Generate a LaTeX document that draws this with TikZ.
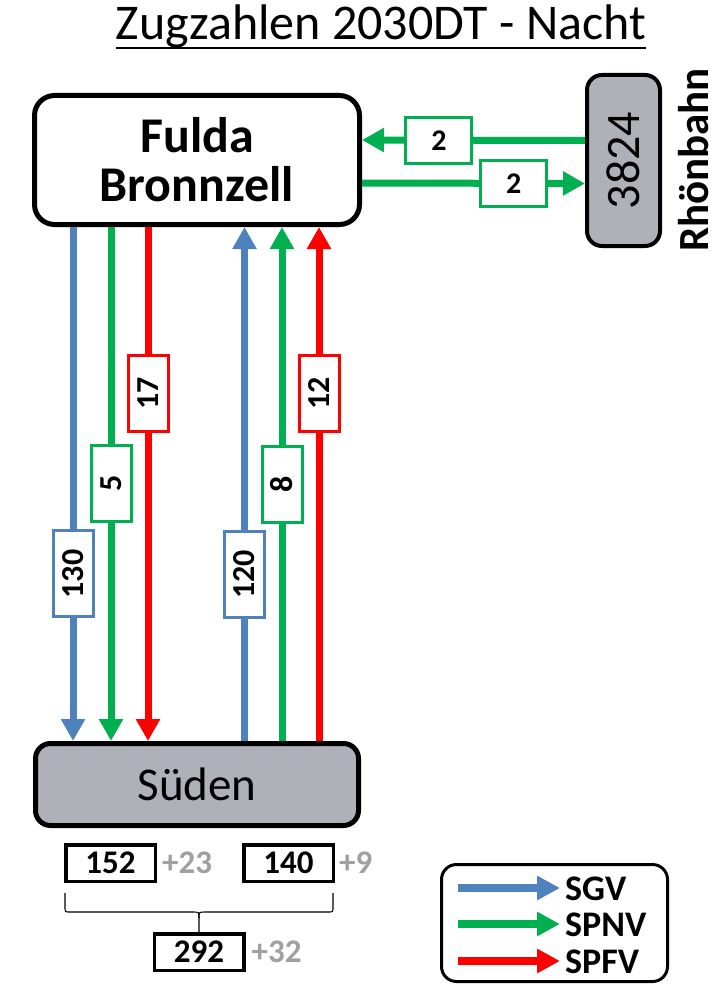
\documentclass[tikz,border=0pt]{standalone}
\usepackage{fontspec}
\setmainfont{Carlito}
\usetikzlibrary{arrows.meta}
\definecolor{cblue}{RGB}{79,129,189}
\definecolor{cgreen}{RGB}{0,176,80}
\definecolor{cred}{RGB}{255,0,0}
\definecolor{cgray}{RGB}{174,177,184}
\definecolor{tgray}{RGB}{160,160,160}
\newcommand{\myfs}[1]{\fontsize{#1}{#1}\selectfont}
\begin{document}
\begin{tikzpicture}[x=1pt,y=-1pt,
  mainbox/.style={draw=black, line width=5pt, rounded corners=20pt, inner sep=0pt},
  flow/.style={draw=#1, line width=7pt, -{Triangle[width=23pt,length=22pt]}},
  vlbl/.style={draw=#1, line width=3pt, fill=white, inner sep=0pt, rotate=90,
     minimum height=40pt, minimum width=76pt, font=\bfseries\myfs{32}},
  hlbl/.style={draw=#1, line width=3pt, fill=white, inner sep=0pt,
     minimum height=46pt, minimum width=66pt, font=\bfseries\myfs{30}},
  sumbox/.style={draw=black, line width=3.5pt, fill=white, inner sep=0pt,
     minimum height=36.5pt, minimum width=89.5pt, font=\bfseries\myfs{33}},
  plus/.style={anchor=west, text=tgray, font=\bfseries\myfs{33}, inner sep=0pt},
  legarrow/.style={draw=#1, line width=7.5pt, -{Triangle[width=23pt,length=23pt]}},
  legtext/.style={anchor=base west, font=\bfseries\myfs{36}, inner sep=0pt}
]
\useasboundingbox (0,0) rectangle (718,987);

% title
\node[anchor=base, font=\myfs{50}, inner sep=0pt] (title) at (381,40) {Zugzahlen 2030DT - Nacht};
\draw[line width=2.5pt] ([yshift=-8pt]title.base west) -- ([yshift=-8pt]title.base east);

% main boxes
\node[mainbox, fill=white, minimum width=325pt, minimum height=129pt,
      align=center, font=\bfseries\myfs{50}] (fulda) at (197,160)
      {Fulda\\[-1pt]Bronnzell};
\node[mainbox, fill=cgray, rounded corners=15pt, minimum width=323pt, minimum height=82pt,
      font=\myfs{47}] (suden) at (197,784.5) {Süden};
\node[mainbox, fill=cgray, line width=4pt, rounded corners=15pt,
      minimum width=73pt, minimum height=171pt] (rhoen) at (623.5,160.5) {};
\node[rotate=90, font=\myfs{48}, inner sep=0pt] (rhoentxt) at (rhoen.center) {3824};
\node[rotate=90, font=\bfseries\myfs{43}, inner sep=0pt] (rhoenname) at (694,160) {Rhönbahn};

% Fulda <-> Rhoenbahn
\draw[flow=cgreen] ([yshift=20pt]rhoen.west) -- node[hlbl=cgreen, pos=0.655] (h1) {2} ([yshift=20pt]fulda.east);
\draw[flow=cgreen] ([yshift=-23pt]fulda.east) -- node[hlbl=cgreen, pos=0.68] (h2) {2} ([yshift=-23pt]rhoen.west);

% Fulda -> Sueden
\draw[flow=cblue] ([xshift=-124pt]fulda.south) -- node[vlbl=cblue, minimum width=86pt, pos=0.675] (d1) {130} ([xshift=-124pt]suden.north);
\draw[flow=cgreen] ([xshift=-86pt]fulda.south) -- node[vlbl=cgreen, pos=0.499] (d2) {5} ([xshift=-86pt]suden.north);
\draw[flow=cred] ([xshift=-49pt]fulda.south) -- node[vlbl=cred, pos=0.323] (d3) {17} ([xshift=-49pt]suden.north);

% Sueden -> Fulda
\draw[flow=cblue] ([xshift=47.5pt]suden.north) -- node[vlbl=cblue, minimum width=86pt, pos=0.324] (u1) {120} ([xshift=47.5pt]fulda.south);
\draw[flow=cgreen] ([xshift=85pt]suden.north) -- node[vlbl=cgreen, pos=0.499] (u2) {8} ([xshift=85pt]fulda.south);
\draw[flow=cred] ([xshift=122pt]suden.north) -- node[vlbl=cred, pos=0.676] (u3) {12} ([xshift=122pt]fulda.south);

% sums
\node[sumbox] (s1) at (110.5,863) {152};
\node[plus] (p1) at ([xshift=5pt]s1.east) {+23};
\node[sumbox] (s2) at (288.5,863) {140};
\node[plus] (p2) at ([xshift=4pt]s2.east) {+9};
\node[sumbox] (s3) at (199,952) {292};
\node[plus] (p3) at ([xshift=6pt]s3.east) {+32};

% brace
\draw[line width=1.1pt] (65,893) -- (65,907) .. controls (65,912) .. (70,912) -- (193,912)
   .. controls (199,912) .. (199,918) -- (s3.north);
\draw[line width=1.1pt] (333,893) -- (333,907) .. controls (333,912) .. (328,912) -- (205,912)
   .. controls (199,912) .. (199,918);

% legend
\node[draw=black, line width=3pt, rounded corners=15pt, minimum width=226pt,
      minimum height=117pt, inner sep=0pt] (legend) at (554.5,923) {};
\node[legtext] (lsgv) at (565,900) {SGV};
\node[legtext] (lspnv) at (565,936) {SPNV};
\node[legtext] (lspfv) at (565,973) {SPFV};
\draw[legarrow=cblue] (458,888) -- (560,888);
\draw[legarrow=cgreen] (458,924) -- (560,924);
\draw[legarrow=cred] (458,961) -- (560,961);
\end{tikzpicture}
\end{document}
